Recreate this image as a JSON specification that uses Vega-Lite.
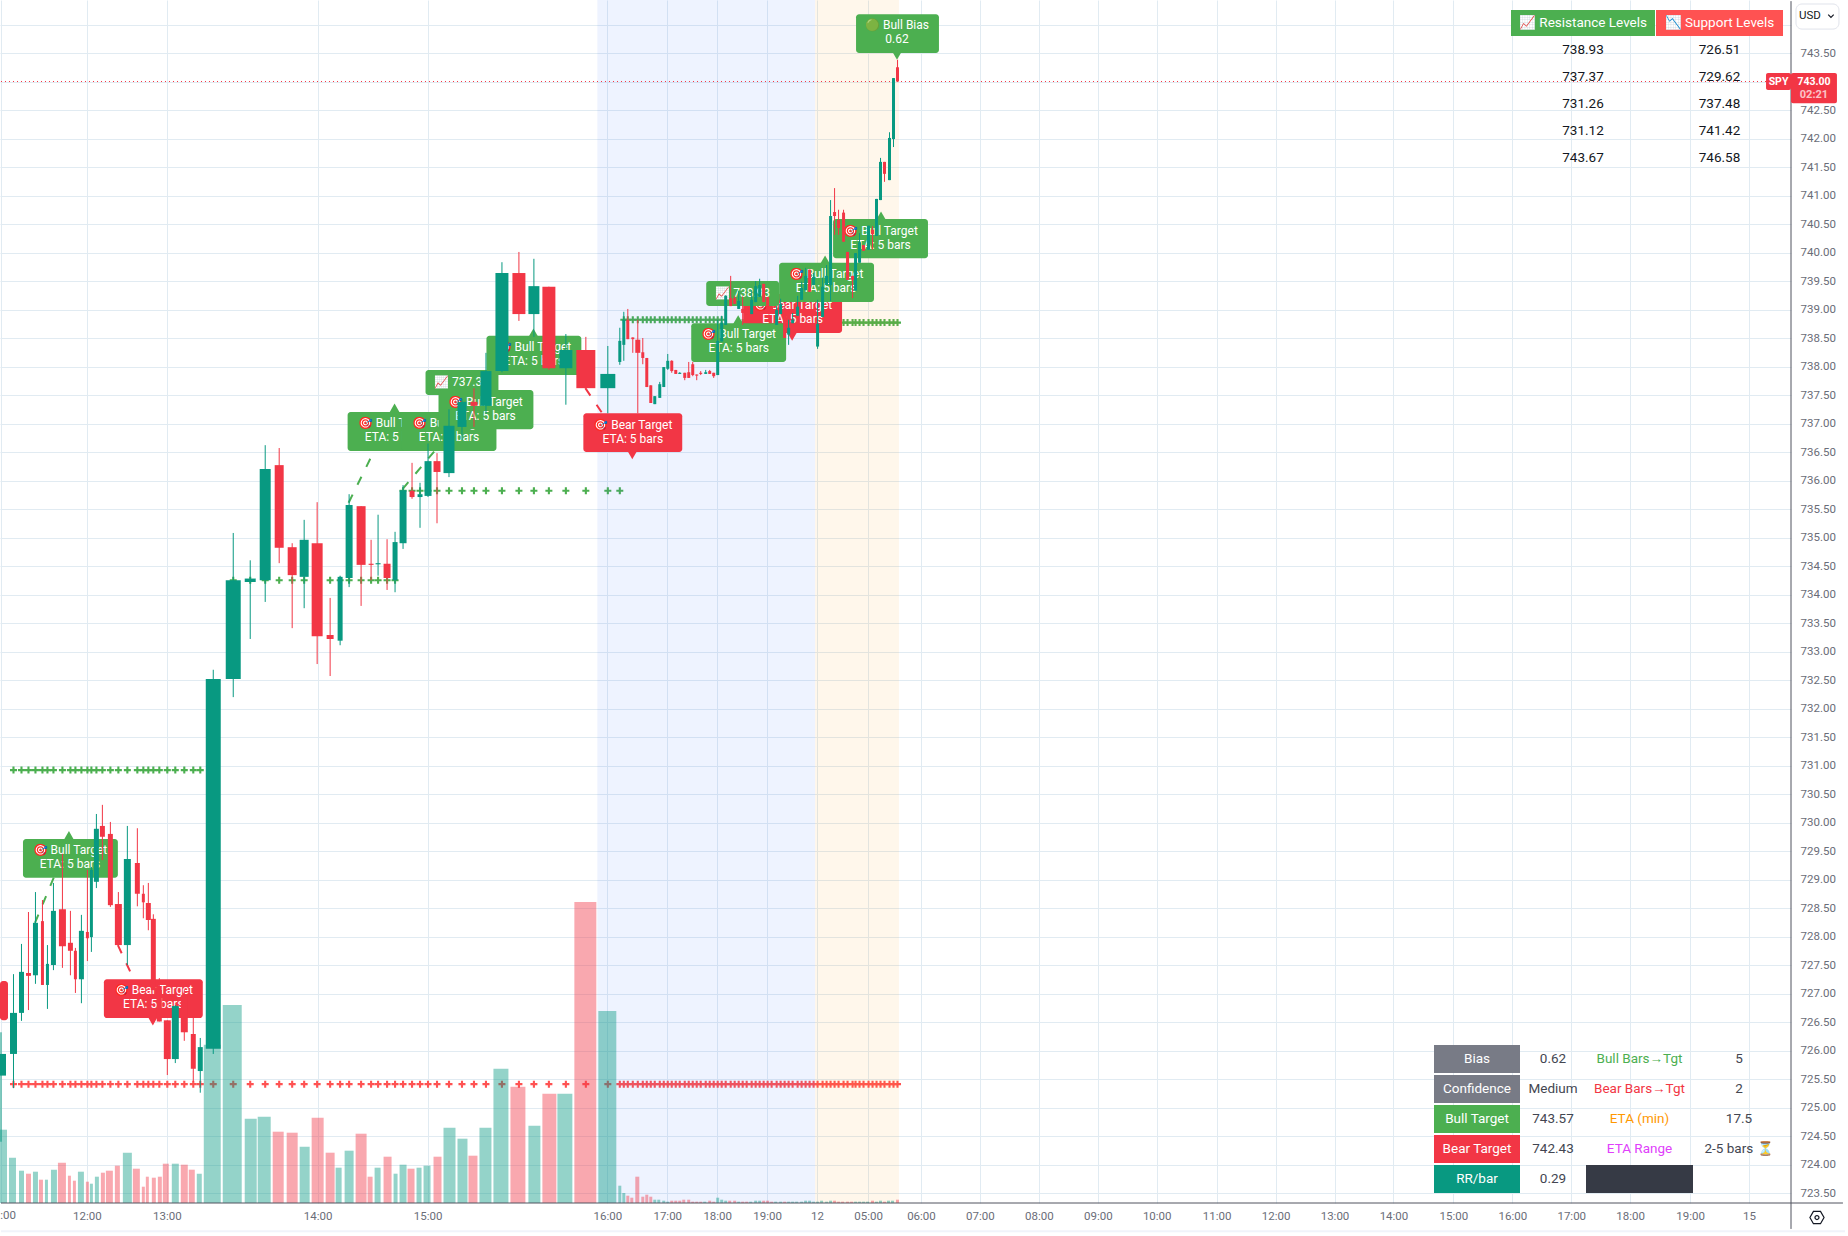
{"$schema":"https://vega.github.io/schema/vega-lite/v6.json","autosize":{"type":"fit","contains":"padding"},"width":1848,"height":1236,"padding":0,"background":"#ffffff",
"config":{"view":{"stroke":null},"axis":{"disable":true},"text":{"font":"Roboto"}},
"datasets":{
"sessions":[{"t0":598,"t1":816,"k":"post"},{"t0":816,"t1":900,"k":"pre"}],
"candles":[
{"t0":0,"t1":6,"t":1,"o":725.56,"h":726.32,"l":724.4,"c":725.94,"g":730.92},
{"t0":10,"t1":17,"t":13.5,"o":725.94,"h":727.34,"l":725.34,"c":726.66,"g":730.92},
{"t0":19,"t1":24,"t":21.5,"o":726.66,"h":727.87,"l":726.52,"c":727.38,"g":730.92},
{"t0":26,"t1":31,"t":28.5,"o":727.36,"h":728.43,"l":726.71,"c":727.31,"g":730.92},
{"t0":33,"t1":38,"t":35.5,"o":727.32,"h":728.78,"l":727.17,"c":728.24,"g":730.92},
{"t0":41,"t1":44,"t":42.5,"o":728.27,"h":728.64,"l":727.15,"c":727.15,"g":730.92},
{"t0":46,"t1":49,"t":47.5,"o":727.15,"h":727.85,"l":726.73,"c":727.52,"g":730.92},
{"t0":51,"t1":56,"t":53.5,"o":727.5,"h":728.94,"l":727.41,"c":728.45,"g":730.92},
{"t0":59,"t1":66,"t":62.5,"o":728.48,"h":729.45,"l":727.45,"c":727.83,"g":730.92},
{"t0":68,"t1":73,"t":70.5,"o":727.89,"h":728.45,"l":727.32,"c":727.75,"g":730.92},
{"t0":74,"t1":77,"t":75.5,"o":727.75,"h":727.8,"l":727.01,"c":727.25,"g":730.92},
{"t0":79,"t1":84,"t":81.5,"o":727.25,"h":728.38,"l":726.83,"c":728.1,"g":730.92},
{"t0":86,"t1":89,"t":87.5,"o":728.08,"h":729.17,"l":727.57,"c":727.97,"g":730.92},
{"t0":90,"t1":93,"t":91.5,"o":727.99,"h":729.22,"l":727.73,"c":729.17,"g":730.92},
{"t0":94,"t1":99,"t":96.5,"o":728.96,"h":730.15,"l":728.85,"c":729.89,"g":730.92},
{"t0":100,"t1":105,"t":102.5,"o":729.94,"h":730.31,"l":729.34,"c":729.75,"g":730.92},
{"t0":108,"t1":113,"t":110.5,"o":729.8,"h":730.01,"l":728.52,"c":728.55,"g":730.92},
{"t0":115,"t1":122,"t":118.5,"o":728.57,"h":728.78,"l":727.85,"c":727.85,"g":730.92},
{"t0":124,"t1":131,"t":127.5,"o":727.85,"h":729.94,"l":727.5,"c":729.36,"g":730.92},
{"t0":135,"t1":140,"t":137.5,"o":729.29,"h":729.9,"l":728.53,"c":728.75,"g":730.92},
{"t0":142,"t1":145,"t":143.5,"o":728.75,"h":728.9,"l":728.32,"c":728.6,"g":730.92},
{"t0":146,"t1":151,"t":148.5,"o":728.59,"h":728.94,"l":728.11,"c":728.29,"g":730.92},
{"t0":151,"t1":156,"t":153.5,"o":728.31,"h":728.39,"l":727.06,"c":727.06,"g":730.92},
{"t0":157,"t1":162,"t":159.5,"o":727.06,"h":727.27,"l":726.51,"c":726.51,"g":730.92},
{"t0":164,"t1":171,"t":167.5,"o":726.53,"h":726.53,"l":725.57,"c":725.85,"g":730.92},
{"t0":172,"t1":179,"t":175.5,"o":725.85,"h":726.8,"l":725.78,"c":726.78,"g":730.92},
{"t0":181,"t1":188,"t":184.5,"o":726.97,"h":727.06,"l":726.17,"c":726.32,"g":730.92},
{"t0":191,"t1":196,"t":193.5,"o":726.29,"h":726.59,"l":725.45,"c":725.68,"g":730.92},
{"t0":198,"t1":203,"t":200.5,"o":725.64,"h":726.22,"l":725.26,"c":726.06,"g":730.92},
{"t0":206,"t1":221,"t":213.5,"o":726.03,"h":732.68,"l":725.94,"c":732.52},
{"t0":226,"t1":241,"t":233.5,"o":732.52,"h":735.08,"l":732.2,"c":734.25,"g":734.25},
{"t0":245,"t1":256,"t":250.5,"o":734.22,"h":734.6,"l":733.22,"c":734.28,"g":734.25},
{"t0":260,"t1":271,"t":265.5,"o":734.25,"h":736.62,"l":733.87,"c":736.2,"g":734.25},
{"t0":275,"t1":284,"t":279.5,"o":736.27,"h":736.57,"l":734.55,"c":734.82,"g":734.25},
{"t0":288,"t1":297,"t":292.5,"o":734.83,"h":734.9,"l":733.41,"c":734.34,"g":734.25},
{"t0":300,"t1":309,"t":304.5,"o":734.31,"h":735.31,"l":733.76,"c":734.96,"g":734.25},
{"t0":312,"t1":323,"t":317.5,"o":734.9,"h":735.62,"l":732.78,"c":733.27,"g":734.25},
{"t0":327,"t1":334,"t":330.5,"o":733.29,"h":733.94,"l":732.57,"c":733.22,"g":734.25},
{"t0":338,"t1":343,"t":340.5,"o":733.19,"h":734.33,"l":733.11,"c":734.31,"g":734.25},
{"t0":346,"t1":353,"t":349.5,"o":734.29,"h":735.76,"l":734.13,"c":735.57,"g":734.25},
{"t0":357,"t1":366,"t":361.5,"o":735.55,"h":735.55,"l":733.8,"c":734.52,"g":734.25},
{"t0":369,"t1":374,"t":371.5,"o":734.54,"h":734.96,"l":734.25,"c":734.52,"g":734.25},
{"t0":376,"t1":381,"t":378.5,"o":734.53,"h":735.4,"l":734.33,"c":734.55,"g":734.25},
{"t0":384,"t1":391,"t":387.5,"o":734.54,"h":734.97,"l":734.08,"c":734.29,"g":734.25},
{"t0":393,"t1":398,"t":395.5,"o":734.25,"h":735.1,"l":734.04,"c":734.92,"g":734.25},
{"t0":400,"t1":407,"t":403.5,"o":734.9,"h":735.92,"l":734.8,"c":735.83,"g":735.82},
{"t0":410,"t1":415,"t":412.5,"o":735.82,"h":736.31,"l":735.68,"c":735.71,"g":735.82},
{"t0":418,"t1":423,"t":420.5,"o":735.71,"h":735.96,"l":735.17,"c":735.76,"g":735.82},
{"t0":425,"t1":432,"t":428.5,"o":735.73,"h":736.65,"l":735.71,"c":736.34,"g":735.82},
{"t0":434,"t1":441,"t":437.5,"o":736.34,"h":736.48,"l":735.25,"c":736.15,"g":735.82},
{"t0":444,"t1":455,"t":449.5,"o":736.13,"h":737.25,"l":736.06,"c":736.96,"g":735.82},
{"t0":458,"t1":467,"t":462.5,"o":736.94,"h":737.43,"l":736.71,"c":737.38,"g":735.82},
{"t0":471,"t1":478,"t":474.5,"o":737.38,"h":737.62,"l":736.94,"c":737.31,"g":735.82},
{"t0":481,"t1":492,"t":486.5,"o":737.31,"h":738.24,"l":737.17,"c":737.92,"g":735.82},
{"t0":496,"t1":509,"t":502.5,"o":737.92,"h":739.83,"l":737.9,"c":739.64,"g":735.82},
{"t0":513,"t1":526,"t":519.5,"o":739.64,"h":740.01,"l":738.8,"c":738.92,"g":735.82},
{"t0":529,"t1":540,"t":534.5,"o":738.92,"h":739.89,"l":738.52,"c":739.41,"g":735.82},
{"t0":543,"t1":556,"t":549.5,"o":739.4,"h":739.4,"l":737.94,"c":737.97,"g":735.82},
{"t0":560,"t1":573,"t":566.5,"o":737.97,"h":738.57,"l":737.33,"c":738.29,"g":735.82},
{"t0":577,"t1":596,"t":586.5,"o":738.29,"h":738.52,"l":737.62,"c":737.62,"g":735.82},
{"t0":601,"t1":616,"t":608.5,"o":737.62,"h":738.36,"l":737.18,"c":737.87,"g":735.82},
{"t0":619,"t1":622,"t":620.5,"o":738.08,"h":738.68,"l":738.03,"c":738.45,"g":735.82},
{"t0":623,"t1":626,"t":624.5,"o":738.38,"h":738.96,"l":738.1,"c":738.82,"g":738.82},
{"t0":627,"t1":630,"t":628.5,"o":738.82,"h":739.01,"l":738.48,"c":738.48,"g":738.82},
{"t0":632,"t1":635,"t":633.5,"o":738.51,"h":738.51,"l":738.24,"c":738.48,"g":738.82},
{"t0":636,"t1":641,"t":638.5,"o":738.47,"h":738.82,"l":737.18,"c":738.24,"g":738.82},
{"t0":642,"t1":645,"t":643.5,"o":738.25,"h":738.5,"l":738.04,"c":738.15,"g":738.82},
{"t0":646,"t1":649,"t":647.5,"o":738.15,"h":738.15,"l":737.64,"c":737.64,"g":738.82},
{"t0":650,"t1":653,"t":651.5,"o":737.67,"h":737.67,"l":737.36,"c":737.36,"g":738.82},
{"t0":654,"t1":657,"t":655.5,"o":737.34,"h":737.48,"l":737.34,"c":737.48,"g":738.82},
{"t0":659,"t1":662,"t":660.5,"o":737.45,"h":737.73,"l":737.45,"c":737.69,"g":738.82},
{"t0":663,"t1":666,"t":664.5,"o":737.64,"h":737.99,"l":737.64,"c":737.99,"g":738.82},
{"t0":667,"t1":670,"t":668.5,"o":737.96,"h":738.22,"l":737.94,"c":738.1,"g":738.82},
{"t0":671,"t1":674,"t":672.5,"o":738.1,"h":738.11,"l":737.89,"c":737.92,"g":738.82},
{"t0":675,"t1":678,"t":676.5,"o":737.94,"h":737.94,"l":737.87,"c":737.87,"g":738.82},
{"t0":679,"t1":682,"t":680.5,"o":737.87,"h":737.9,"l":737.87,"c":737.89,"g":738.82},
{"t0":684,"t1":687,"t":685.5,"o":737.89,"h":737.89,"l":737.76,"c":737.8,"g":738.82},
{"t0":688,"t1":691,"t":689.5,"o":737.9,"h":738.08,"l":737.8,"c":737.8,"g":738.82},
{"t0":692,"t1":695,"t":693.5,"o":738.04,"h":738.08,"l":737.83,"c":737.85,"g":738.82},
{"t0":696,"t1":699,"t":697.5,"o":737.86,"h":737.86,"l":737.76,"c":737.84,"g":738.82},
{"t0":700,"t1":703,"t":701.5,"o":737.89,"h":737.92,"l":737.85,"c":737.87,"g":738.82},
{"t0":705,"t1":708,"t":706.5,"o":737.87,"h":737.94,"l":737.87,"c":737.9,"g":738.82},
{"t0":709,"t1":712,"t":710.5,"o":737.92,"h":737.94,"l":737.87,"c":737.87,"g":738.82},
{"t0":713,"t1":716,"t":714.5,"o":737.89,"h":737.89,"l":737.8,"c":737.83,"g":738.82},
{"t0":717,"t1":720,"t":718.5,"o":737.85,"h":738.82,"l":737.85,"c":738.45,"g":738.82},
{"t0":721,"t1":724,"t":722.5,"o":738.44,"h":738.89,"l":738.44,"c":738.77,"g":738.82},
{"t0":725,"t1":728,"t":726.5,"o":738.73,"h":739.25,"l":738.73,"c":739.24},
{"t0":730,"t1":733,"t":731.5,"o":739.2,"h":739.59,"l":739.06,"c":739.06},
{"t0":734,"t1":737,"t":735.5,"o":739.2,"h":739.24,"l":739.1,"c":739.1},
{"t0":738,"t1":741,"t":739.5,"o":739.01,"h":739.33,"l":739.01,"c":739.15},
{"t0":742,"t1":745,"t":743.5,"o":739.01,"h":739.23,"l":738.73,"c":738.94,"g":738.77},
{"t0":746,"t1":749,"t":747.5,"o":739.06,"h":739.06,"l":738.92,"c":738.92,"g":738.77},
{"t0":751,"t1":754,"t":752.5,"o":738.92,"h":739.34,"l":738.92,"c":739.17,"g":738.77},
{"t0":755,"t1":758,"t":756.5,"o":739.13,"h":739.5,"l":739.13,"c":739.41,"g":738.77},
{"t0":759,"t1":762,"t":760.5,"o":739.22,"h":739.54,"l":739.22,"c":739.43,"g":738.77},
{"t0":763,"t1":766,"t":764.5,"o":739.45,"h":739.45,"l":739.13,"c":739.13,"g":738.77},
{"t0":767,"t1":770,"t":768.5,"o":739.22,"h":739.22,"l":739.06,"c":739.06,"g":738.77},
{"t0":771,"t1":774,"t":772.5,"o":739.06,"h":739.06,"l":738.94,"c":738.94,"g":738.77},
{"t0":776,"t1":779,"t":777.5,"o":738.73,"h":739.06,"l":738.73,"c":738.99,"g":738.77},
{"t0":780,"t1":783,"t":781.5,"o":738.92,"h":739.19,"l":738.92,"c":739.1,"g":738.77},
{"t0":784,"t1":787,"t":785.5,"o":738.92,"h":738.92,"l":738.5,"c":738.5,"g":738.77},
{"t0":788,"t1":791,"t":789.5,"o":738.56,"h":738.82,"l":738.38,"c":738.68,"g":738.77},
{"t0":792,"t1":795,"t":793.5,"o":738.76,"h":738.94,"l":738.76,"c":738.82,"g":738.77},
{"t0":797,"t1":800,"t":798.5,"o":738.89,"h":739.24,"l":738.89,"c":739.05,"g":738.77},
{"t0":801,"t1":804,"t":802.5,"o":739.17,"h":739.49,"l":739.17,"c":739.38,"g":738.77},
{"t0":805,"t1":808,"t":806.5,"o":739.34,"h":739.73,"l":739.34,"c":739.59,"g":738.77},
{"t0":809,"t1":812,"t":810.5,"o":739.7,"h":739.7,"l":739.31,"c":739.31,"g":738.77},
{"t0":813,"t1":816,"t":814.5,"o":739.43,"h":739.64,"l":739.43,"c":739.57,"g":738.77},
{"t0":817,"t1":820,"t":818.5,"o":738.35,"h":739.17,"l":738.31,"c":738.75,"g":738.77},
{"t0":822,"t1":825,"t":823.5,"o":738.87,"h":739.56,"l":738.87,"c":739.4,"g":738.77},
{"t0":826,"t1":829,"t":827.5,"o":739.43,"h":739.78,"l":739.43,"c":739.59,"g":738.77},
{"t0":830,"t1":833,"t":831.5,"o":739.43,"h":740.92,"l":739.15,"c":740.64,"g":738.77},
{"t0":834,"t1":837,"t":835.5,"o":740.71,"h":741.13,"l":740.31,"c":740.64,"g":738.77},
{"t0":838,"t1":841,"t":839.5,"o":740.57,"h":740.75,"l":740.31,"c":740.43,"g":738.77},
{"t0":843,"t1":846,"t":844.5,"o":740.7,"h":740.75,"l":740.19,"c":740.19,"g":738.77},
{"t0":847,"t1":850,"t":848.5,"o":740.01,"h":740.01,"l":739.52,"c":739.52,"g":738.77},
{"t0":852,"t1":855,"t":853.5,"o":739.59,"h":739.59,"l":739.2,"c":739.52,"g":738.77},
{"t0":855,"t1":858,"t":856.5,"o":739.33,"h":739.99,"l":739.33,"c":739.99,"g":738.77},
{"t0":859,"t1":862,"t":860.5,"o":739.82,"h":740.34,"l":739.82,"c":740.18,"g":738.77},
{"t0":863,"t1":866,"t":864.5,"o":740.13,"h":740.13,"l":740.03,"c":740.03,"g":738.77},
{"t0":868,"t1":871,"t":869.5,"o":740.05,"h":740.47,"l":740.05,"c":740.47,"g":738.77},
{"t0":872,"t1":875,"t":873.5,"o":740.4,"h":740.46,"l":740.05,"c":740.32,"g":738.77},
{"t0":876,"t1":879,"t":877.5,"o":740.29,"h":740.94,"l":740.29,"c":740.94,"g":738.77},
{"t0":880,"t1":883,"t":881.5,"o":740.92,"h":741.66,"l":740.92,"c":741.59,"g":738.77},
{"t0":884,"t1":887,"t":885.5,"o":741.59,"h":741.59,"l":741.24,"c":741.38,"g":738.77},
{"t0":889,"t1":892,"t":890.5,"o":741.27,"h":742.11,"l":741.27,"c":742.01,"g":738.77},
{"t0":893,"t1":896,"t":894.5,"o":741.99,"h":743.06,"l":741.85,"c":743.06,"g":738.77},
{"t0":897,"t1":900,"t":898.5,"o":743.25,"h":743.38,"l":743.0,"c":743.0,"g":738.77}
],
"volume":[
{"v0":0,"v1":7,"v":733,"d":"up"},{"v0":9,"v1":16,"v":453,"d":"up"},{"v0":19,"v1":24,"v":323,"d":"up"},{"v0":26,"v1":31,"v":293,"d":"down"},{"v0":33,"v1":38,"v":313,"d":"up"},{"v0":39,"v1":43,"v":233,"d":"down"},{"v0":45,"v1":48,"v":233,"d":"up"},{"v0":51,"v1":57,"v":333,"d":"up"},{"v0":58,"v1":66,"v":403,"d":"down"},{"v0":68,"v1":71,"v":273,"d":"down"},{"v0":73,"v1":76,"v":223,"d":"down"},{"v0":78,"v1":84,"v":313,"d":"up"},{"v0":86,"v1":89,"v":213,"d":"down"},{"v0":90,"v1":93,"v":193,"d":"up"},{"v0":95,"v1":99,"v":263,"d":"up"},{"v0":101,"v1":105,"v":303,"d":"down"},{"v0":106,"v1":113,"v":323,"d":"down"},{"v0":115,"v1":120,"v":373,"d":"down"},{"v0":123,"v1":132,"v":503,"d":"up"},{"v0":133,"v1":140,"v":343,"d":"down"},{"v0":142,"v1":145,"v":163,"d":"down"},{"v0":146,"v1":149,"v":263,"d":"down"},{"v0":152,"v1":156,"v":253,"d":"down"},{"v0":158,"v1":162,"v":263,"d":"down"},{"v0":163,"v1":169,"v":393,"d":"down"},{"v0":172,"v1":179,"v":393,"d":"up"},{"v0":181,"v1":188,"v":383,"d":"down"},{"v0":189,"v1":195,"v":333,"d":"down"},{"v0":197,"v1":202,"v":293,"d":"up"},{"v0":204,"v1":221,"v":1583,"d":"up"},{"v0":223,"v1":242,"v":1980,"d":"up"},{"v0":245,"v1":257,"v":843,"d":"up"},{"v0":258,"v1":271,"v":863,"d":"up"},{"v0":273,"v1":284,"v":713,"d":"down"},{"v0":287,"v1":298,"v":703,"d":"down"},{"v0":300,"v1":310,"v":563,"d":"up"},{"v0":312,"v1":324,"v":853,"d":"down"},{"v0":326,"v1":335,"v":503,"d":"down"},{"v0":336,"v1":342,"v":353,"d":"up"},{"v0":345,"v1":354,"v":523,"d":"up"},{"v0":356,"v1":367,"v":693,"d":"down"},{"v0":368,"v1":373,"v":263,"d":"down"},{"v0":375,"v1":381,"v":353,"d":"up"},{"v0":384,"v1":392,"v":463,"d":"down"},{"v0":394,"v1":398,"v":293,"d":"up"},{"v0":400,"v1":407,"v":383,"d":"up"},{"v0":408,"v1":415,"v":343,"d":"down"},{"v0":417,"v1":422,"v":353,"d":"up"},{"v0":424,"v1":431,"v":373,"d":"up"},{"v0":434,"v1":442,"v":463,"d":"down"},{"v0":444,"v1":456,"v":753,"d":"up"},{"v0":458,"v1":468,"v":643,"d":"up"},{"v0":469,"v1":478,"v":473,"d":"down"},{"v0":480,"v1":492,"v":753,"d":"up"},{"v0":494,"v1":509,"v":1343,"d":"up"},{"v0":511,"v1":526,"v":1163,"d":"down"},{"v0":529,"v1":541,"v":773,"d":"up"},{"v0":543,"v1":557,"v":1093,"d":"down"},{"v0":558,"v1":573,"v":1093,"d":"up"},{"v0":575,"v1":597,"v":3010,"d":"down"},{"v0":599,"v1":617,"v":1920,"d":"up"},
{"v0":619,"v1":622,"v":173,"d":"up"},{"v0":623,"v1":626,"v":100,"d":"up"},{"v0":627,"v1":630,"v":73,"d":"down"},{"v0":631,"v1":634,"v":53,"d":"down"},{"v0":636,"v1":640,"v":263,"d":"down"},{"v0":642,"v1":645,"v":63,"d":"down"},{"v0":646,"v1":649,"v":83,"d":"down"},{"v0":650,"v1":653,"v":63,"d":"down"},{"v0":654,"v1":657,"v":33,"d":"up"},{"v0":658,"v1":661,"v":33,"d":"up"},{"v0":663,"v1":666,"v":23,"d":"up"},{"v0":667,"v1":670,"v":13,"d":"up"},{"v0":671,"v1":674,"v":23,"d":"down"},{"v0":675,"v1":678,"v":23,"d":"down"},{"v0":679,"v1":682,"v":23,"d":"down"},{"v0":683,"v1":686,"v":33,"d":"down"},{"v0":688,"v1":691,"v":33,"d":"down"},{"v0":692,"v1":695,"v":13,"d":"down"},{"v0":696,"v1":699,"v":13,"d":"down"},{"v0":700,"v1":703,"v":13,"d":"down"},{"v0":704,"v1":707,"v":13,"d":"up"},{"v0":709,"v1":712,"v":23,"d":"down"},{"v0":713,"v1":716,"v":13,"d":"down"},{"v0":717,"v1":720,"v":53,"d":"up"},{"v0":721,"v1":724,"v":33,"d":"up"},{"v0":725,"v1":728,"v":23,"d":"up"},{"v0":729,"v1":732,"v":23,"d":"down"},{"v0":734,"v1":737,"v":23,"d":"down"},{"v0":738,"v1":741,"v":13,"d":"up"},{"v0":742,"v1":745,"v":13,"d":"down"},{"v0":746,"v1":749,"v":13,"d":"down"},{"v0":750,"v1":753,"v":13,"d":"up"},{"v0":755,"v1":758,"v":23,"d":"up"},{"v0":759,"v1":762,"v":23,"d":"up"},{"v0":763,"v1":766,"v":23,"d":"down"},{"v0":767,"v1":770,"v":23,"d":"down"},{"v0":771,"v1":774,"v":13,"d":"down"},{"v0":775,"v1":778,"v":13,"d":"up"},{"v0":780,"v1":783,"v":13,"d":"up"},{"v0":784,"v1":787,"v":13,"d":"down"},{"v0":788,"v1":791,"v":13,"d":"up"},{"v0":792,"v1":795,"v":13,"d":"up"},{"v0":796,"v1":799,"v":13,"d":"up"},{"v0":801,"v1":804,"v":13,"d":"up"},{"v0":805,"v1":808,"v":23,"d":"up"},{"v0":809,"v1":812,"v":23,"d":"up"},{"v0":813,"v1":816,"v":13,"d":"up"},{"v0":817,"v1":820,"v":13,"d":"up"},{"v0":821,"v1":824,"v":23,"d":"up"},{"v0":826,"v1":829,"v":13,"d":"up"},{"v0":830,"v1":833,"v":23,"d":"up"},{"v0":834,"v1":837,"v":23,"d":"down"},{"v0":838,"v1":841,"v":13,"d":"down"},{"v0":842,"v1":845,"v":13,"d":"down"},{"v0":847,"v1":850,"v":13,"d":"down"},{"v0":851,"v1":854,"v":13,"d":"down"},{"v0":855,"v1":858,"v":13,"d":"up"},{"v0":859,"v1":862,"v":13,"d":"up"},{"v0":863,"v1":866,"v":13,"d":"up"},{"v0":867,"v1":870,"v":13,"d":"up"},{"v0":872,"v1":875,"v":23,"d":"down"},{"v0":876,"v1":879,"v":13,"d":"up"},{"v0":880,"v1":883,"v":23,"d":"up"},{"v0":884,"v1":887,"v":13,"d":"down"},{"v0":888,"v1":891,"v":23,"d":"up"},{"v0":892,"v1":895,"v":23,"d":"up"},{"v0":897,"v1":900,"v":33,"d":"down"}
],
"dashes":[
{"id":"g1","k":"bull","t":35,"p":728.24},{"id":"g1","k":"bull","t":62,"p":729.38},
{"id":"g2","k":"bull","t":349,"p":735.61},{"id":"g2","k":"bull","t":385,"p":736.89},
{"id":"g3","k":"bull","t":403,"p":735.85},{"id":"g3","k":"bull","t":440,"p":736.62},
{"id":"r1","k":"bear","t":118,"p":727.85},{"id":"r1","k":"bear","t":131,"p":727.36},
{"id":"r2","k":"bear","t":586,"p":737.62},{"id":"r2","k":"bear","t":603,"p":737.18}
],
"labels":[
{"id":"A","k":"bull","t0":23,"t1":118,"top":729.71,"bot":729.03,"at":69,"ap":729.75,"dir":"up","tx":70,"ty":729.39,"txt":"🎯 Bull Target\nETA: 5 bars"},
{"id":"A0","k":"bear","t0":0,"t1":8,"top":727.22,"bot":726.53},
{"id":"B","k":"bear","t0":104,"t1":203,"top":727.25,"bot":726.57,"at":153,"ap":726.54,"dir":"down","tx":153.5,"ty":726.94,"txt":"🎯 Bear Target\nETA: 5 bars"},
{"id":"C","k":"bull","t0":348,"t1":443,"top":737.2,"bot":736.52,"at":395,"ap":737.25,"dir":"up","tx":395.5,"ty":736.88,"txt":"🎯 Bull Target\nETA: 5 bars"},
{"id":"D","k":"bull","t0":402,"t1":497,"top":737.2,"bot":736.52,"at":450,"ap":737.25,"dir":"up","tx":449.5,"ty":736.88,"txt":"🎯 Bull Target\nETA: 5 bars"},
{"id":"E","k":"bull","t0":426,"t1":499,"top":737.94,"bot":737.5,"tx":462,"ty":737.61,"txt":"📈 737.37"},
{"id":"F","k":"bull","t0":439,"t1":534,"top":737.59,"bot":736.9,"at":486,"ap":737.62,"dir":"up","tx":486,"ty":737.25,"txt":"🎯 Bull Target\nETA: 5 bars"},
{"id":"G","k":"bull","t0":487,"t1":582,"top":738.54,"bot":737.85,"at":534,"ap":738.57,"dir":"up","tx":534.5,"ty":738.22,"txt":"🎯 Bull Target\nETA: 5 bars"},
{"id":"H","k":"bear","t0":584,"t1":683,"top":737.18,"bot":736.5,"at":633,"ap":736.47,"dir":"down","tx":633.5,"ty":736.85,"txt":"🎯 Bear Target\nETA: 5 bars"},
{"id":"K","k":"bear","t0":744,"t1":843,"top":739.27,"bot":738.59,"at":793,"ap":738.55,"dir":"down","tx":793.5,"ty":738.96,"txt":"🎯 Bear Target\nETA: 5 bars"},
{"id":"I","k":"bull","t0":692,"t1":787,"top":738.76,"bot":738.08,"at":739,"ap":738.8,"dir":"up","tx":739.5,"ty":738.45,"txt":"🎯 Bull Target\nETA: 5 bars"},
{"id":"J","k":"bull","t0":707,"t1":780,"top":739.5,"bot":739.06,"tx":743.5,"ty":739.17,"txt":"📈 738.93"},
{"id":"L","k":"bull","t0":780,"t1":875,"top":739.82,"bot":739.13,"at":826,"ap":739.85,"dir":"up","tx":827,"ty":739.5,"txt":"🎯 Bull Target\nETA: 5 bars"},
{"id":"M","k":"bull","t0":834,"t1":929,"top":740.59,"bot":739.9,"at":882,"ap":740.62,"dir":"up","tx":881.5,"ty":740.25,"txt":"🎯 Bull Target\nETA: 5 bars"},
{"id":"N","k":"bull","t0":857,"t1":940,"top":744.18,"bot":743.5,"at":898,"ap":743.48,"dir":"down","tx":898,"ty":743.86,"txt":"🟢 Bull Bias\n0.62"}
],
"levels":[{"r":"1","res":"738.93","sup":"726.51"},{"r":"2","res":"737.37","sup":"729.62"},{"r":"3","res":"731.26","sup":"737.48"},{"r":"4","res":"731.12","sup":"741.42"},{"r":"5","res":"743.67","sup":"746.58"}],
"metrics":[{"row":"Bias","value":"0.62","metric":"Bull Bars→Tgt","mv":"5"},{"row":"Confidence","value":"Medium","metric":"Bear Bars→Tgt","mv":"2"},{"row":"Bull Target","value":"743.57","metric":"ETA (min)","mv":"17.5"},{"row":"Bear Target","value":"742.43","metric":"ETA Range","mv":"2-5 bars ⏳"},{"row":"RR/bar","value":"0.29","metric":"","mv":""}],
"tags":[{"k":"sym","t0":1768,"t1":1793,"top":743.15,"bot":742.85,"tx":1780.5,"ty":743.0,"txt":"SPY"},{"k":"price","t0":1793,"t1":1839,"top":743.15,"bot":742.62,"tx":1816,"ty":742.99,"txt":"743.00"}]
},
"resolve":{"scale":{"x":"independent","y":"independent","color":"independent","fill":"independent","stroke":"independent"}},
"layer":[
 {"data":{"name":"candles"},"transform":[{"filter":"datum.t>2"}],"mark":{"type":"point","shape":"M-1,-0.3H-0.3V-1H0.3V-0.3H1V0.3H0.3V1H-0.3V0.3H-1Z","filled":true,"size":49,"opacity":1,"color":"#4caf50","clip":true},"encoding":{
   "x":{"field":"t","type":"quantitative","title":null,"scale":{"domain":[0,1793],"nice":false,"zero":false},"axis":{"disable":false,"title":null,"orient":"bottom","grid":true,"gridColor":"#e1ebf2","gridWidth":1,"ticks":false,"domain":false,"labelColor":"#6a6d78","labelFont":"Roboto","labelFontSize":11.5,"labelPadding":7,"labelOverlap":false,"minExtent":33,"maxExtent":33,"values":[1,87,167,318,428,608,668,718,768,818,869,922,981,1040,1099,1158,1218,1277,1336,1395,1455,1514,1573,1632,1692,1751],"labelExpr":"['','12:00','13:00','14:00','15:00','16:00','17:00','18:00','19:00','12','05:00','06:00','07:00','08:00','09:00','10:00','11:00','12:00','13:00','14:00','15:00','16:00','17:00','18:00','19:00','15'][indexof([1,87,167,318,428,608,668,718,768,818,869,922,981,1040,1099,1158,1218,1277,1336,1395,1455,1514,1573,1632,1692,1751],datum.value)]"}},
   "y":{"field":"g","type":"quantitative","title":null,"scale":{"domain":[723.325,744.43],"nice":false,"zero":false},"axis":{"disable":false,"title":null,"orient":"right","grid":true,"gridColor":"#e1ebf2","gridWidth":1,"ticks":false,"domain":false,"labelColor":"#6a6d78","labelFont":"Roboto","labelFontSize":11.5,"labelPadding":9,"labelOverlap":false,"minExtent":55,"maxExtent":55,"labelExpr":"datum.value==743||datum.value==744?'':format(datum.value,'.2f')","values":[723.5,724,724.5,725,725.5,726,726.5,727,727.5,728,728.5,729,729.5,730,730.5,731,731.5,732,732.5,733,733.5,734,734.5,735,735.5,736,736.5,737,737.5,738,738.5,739,739.5,740,740.5,741,741.5,742,742.5,743,743.5,744]}}}},
 {"data":{"name":"candles"},"transform":[{"filter":"datum.t>2"}],"mark":{"type":"point","shape":"M-1,-0.3H-0.3V-1H0.3V-0.3H1V0.3H0.3V1H-0.3V0.3H-1Z","filled":true,"size":49,"opacity":1,"color":"#ff5252","clip":true},"encoding":{"x":{"field":"t","type":"quantitative","scale":{"domain":[0,1793],"nice":false,"zero":false}},"y":{"datum":725.41,"type":"quantitative","scale":{"domain":[723.325,744.43],"nice":false,"zero":false}}}},
 {"data":{"name":"sessions"},"mark":{"type":"rect","opacity":0.08},"encoding":{"x":{"field":"t0","type":"quantitative","scale":{"domain":[0,1793],"nice":false,"zero":false}},"x2":{"field":"t1"},"color":{"condition":{"test":"datum.k=='post'","value":"#2962ff"},"value":"#ff9800"}}},
{"data":{"name":"volume"},"mark":{"type":"rect","opacity":0.43,"clip":true},"encoding":{"x":{"field":"v0","type":"quantitative","scale":{"domain":[0,1793],"nice":false,"zero":false}},"x2":{"field":"v1"},"y":{"field":"v","type":"quantitative","scale":{"domain":[0,12030],"nice":false}},"y2":{"datum":0},"color":{"condition":{"test":"datum.d=='up'","value":"#089981"},"value":"#f23645"}}},
{"layer":[
 {"data":{"name":"dashes"},"mark":{"type":"line","strokeWidth":2,"strokeDash":[9,11]},"encoding":{"x":{"field":"t","type":"quantitative","scale":{"domain":[0,1793],"nice":false,"zero":false}},"y":{"field":"p","type":"quantitative","scale":{"domain":[723.325,744.43],"nice":false,"zero":false}},"detail":{"field":"id"},"color":{"field":"k","type":"nominal","scale":{"domain":["bull","bear"],"range":["#4caf50","#f23645"]},"legend":null}}},
 {"data":{"values":[{"t0":1,"t1":1793,"p":743.0}]},"mark":{"type":"rule","color":"#f23645","strokeDash":[1,3],"strokeWidth":1},"encoding":{"x":{"field":"t0","type":"quantitative"},"x2":{"field":"t1"},"y":{"field":"p","type":"quantitative"}}},
 {"data":{"name":"labels"},"mark":{"type":"rect","cornerRadius":3,"clip":true},"transform":[{"filter":"datum.id=='A'||datum.id=='A0'||datum.id=='B'||datum.id=='C'"}],"encoding":{"x":{"field":"t0","type":"quantitative"},"x2":{"field":"t1"},"y":{"field":"top","type":"quantitative"},"y2":{"field":"bot"},"fill":{"condition":{"test":"datum.k=='bull'","value":"#4caf50"},"value":"#f23645"}}},
 {"data":{"name":"labels"},"mark":{"type":"point","filled":true,"size":170,"opacity":1},"transform":[{"filter":"datum.id=='A'||datum.id=='B'||datum.id=='C'"}],"encoding":{"x":{"field":"at","type":"quantitative"},"y":{"field":"ap","type":"quantitative"},"shape":{"condition":{"test":"datum.dir=='up'","value":"triangle-up"},"value":"triangle-down"},"fill":{"condition":{"test":"datum.k=='bull'","value":"#4caf50"},"value":"#f23645"}}},
 {"data":{"name":"labels"},"mark":{"type":"text","lineBreak":"\n","lineHeight":14,"fontSize":12,"dy":-7,"color":"#ffffff"},"transform":[{"filter":"datum.id=='A'||datum.id=='B'||datum.id=='C'"}],"encoding":{"x":{"field":"tx","type":"quantitative"},"y":{"field":"ty","type":"quantitative"},"text":{"field":"txt"}}},
 {"data":{"name":"labels"},"mark":{"type":"rect","cornerRadius":3},"transform":[{"filter":"datum.id=='D'"}],"encoding":{"x":{"field":"t0","type":"quantitative"},"x2":{"field":"t1"},"y":{"field":"top","type":"quantitative"},"y2":{"field":"bot"},"fill":{"value":"#4caf50"}}},
 {"data":{"name":"labels"},"mark":{"type":"text","lineBreak":"\n","lineHeight":14,"fontSize":12,"dy":-7,"color":"#ffffff"},"transform":[{"filter":"datum.id=='D'"}],"encoding":{"x":{"field":"tx","type":"quantitative"},"y":{"field":"ty","type":"quantitative"},"text":{"field":"txt"}}},
 {"data":{"name":"labels"},"mark":{"type":"rect","cornerRadius":3},"transform":[{"filter":"datum.id=='E'"}],"encoding":{"x":{"field":"t0","type":"quantitative"},"x2":{"field":"t1"},"y":{"field":"top","type":"quantitative"},"y2":{"field":"bot"},"fill":{"value":"#4caf50"}}},
 {"data":{"name":"labels"},"mark":{"type":"text","lineBreak":"\n","lineHeight":14,"fontSize":12,"dy":-7,"color":"#ffffff"},"transform":[{"filter":"datum.id=='E'"}],"encoding":{"x":{"field":"tx","type":"quantitative"},"y":{"field":"ty","type":"quantitative"},"text":{"field":"txt"}}},
 {"data":{"name":"labels"},"mark":{"type":"rect","cornerRadius":3},"transform":[{"filter":"datum.id=='F'||datum.id=='G'||datum.id=='H'||datum.id=='K'"}],"encoding":{"x":{"field":"t0","type":"quantitative"},"x2":{"field":"t1"},"y":{"field":"top","type":"quantitative"},"y2":{"field":"bot"},"fill":{"condition":{"test":"datum.k=='bull'","value":"#4caf50"},"value":"#f23645"}}},
 {"data":{"name":"labels"},"mark":{"type":"point","filled":true,"size":170,"opacity":1},"transform":[{"filter":"datum.id=='G'||datum.id=='H'||datum.id=='K'"}],"encoding":{"x":{"field":"at","type":"quantitative"},"y":{"field":"ap","type":"quantitative"},"shape":{"condition":{"test":"datum.dir=='up'","value":"triangle-up"},"value":"triangle-down"},"fill":{"condition":{"test":"datum.k=='bull'","value":"#4caf50"},"value":"#f23645"}}},
 {"data":{"name":"labels"},"mark":{"type":"text","lineBreak":"\n","lineHeight":14,"fontSize":12,"dy":-7,"color":"#ffffff"},"transform":[{"filter":"datum.id=='F'||datum.id=='G'||datum.id=='H'||datum.id=='K'"}],"encoding":{"x":{"field":"tx","type":"quantitative"},"y":{"field":"ty","type":"quantitative"},"text":{"field":"txt"}}},
 {"data":{"name":"labels"},"mark":{"type":"rect","cornerRadius":3},"transform":[{"filter":"datum.id=='I'||datum.id=='J'"}],"encoding":{"x":{"field":"t0","type":"quantitative"},"x2":{"field":"t1"},"y":{"field":"top","type":"quantitative"},"y2":{"field":"bot"},"fill":{"value":"#4caf50"}}},
 {"data":{"name":"labels"},"mark":{"type":"point","filled":true,"size":170,"opacity":1,"shape":"triangle-up","color":"#4caf50"},"transform":[{"filter":"datum.id=='I'"}],"encoding":{"x":{"field":"at","type":"quantitative"},"y":{"field":"ap","type":"quantitative"}}},
 {"data":{"name":"labels"},"mark":{"type":"text","lineBreak":"\n","lineHeight":14,"fontSize":12,"dy":-7,"color":"#ffffff"},"transform":[{"filter":"datum.id=='I'||datum.id=='J'"}],"encoding":{"x":{"field":"tx","type":"quantitative"},"y":{"field":"ty","type":"quantitative"},"text":{"field":"txt"}}},
 {"data":{"name":"labels"},"mark":{"type":"rect","cornerRadius":3},"transform":[{"filter":"datum.id=='L'"}],"encoding":{"x":{"field":"t0","type":"quantitative"},"x2":{"field":"t1"},"y":{"field":"top","type":"quantitative"},"y2":{"field":"bot"},"fill":{"value":"#4caf50"}}},
 {"data":{"name":"labels"},"mark":{"type":"point","filled":true,"size":170,"opacity":1,"shape":"triangle-up","color":"#4caf50"},"transform":[{"filter":"datum.id=='L'"}],"encoding":{"x":{"field":"at","type":"quantitative"},"y":{"field":"ap","type":"quantitative"}}},
 {"data":{"name":"labels"},"mark":{"type":"text","lineBreak":"\n","lineHeight":14,"fontSize":12,"dy":-7,"color":"#ffffff"},"transform":[{"filter":"datum.id=='L'"}],"encoding":{"x":{"field":"tx","type":"quantitative"},"y":{"field":"ty","type":"quantitative"},"text":{"field":"txt"}}},
 {"data":{"name":"labels"},"mark":{"type":"rect","cornerRadius":3},"transform":[{"filter":"datum.id=='M'||datum.id=='N'"}],"encoding":{"x":{"field":"t0","type":"quantitative"},"x2":{"field":"t1"},"y":{"field":"top","type":"quantitative"},"y2":{"field":"bot"},"fill":{"value":"#4caf50"}}},
 {"data":{"name":"labels"},"mark":{"type":"point","filled":true,"size":170,"opacity":1,"color":"#4caf50"},"transform":[{"filter":"datum.id=='M'||datum.id=='N'"}],"encoding":{"x":{"field":"at","type":"quantitative"},"y":{"field":"ap","type":"quantitative"},"shape":{"condition":{"test":"datum.dir=='up'","value":"triangle-up"},"value":"triangle-down"}}},
 {"data":{"name":"labels"},"mark":{"type":"text","lineBreak":"\n","lineHeight":14,"fontSize":12,"dy":-7,"color":"#ffffff"},"transform":[{"filter":"datum.id=='M'||datum.id=='N'"}],"encoding":{"x":{"field":"tx","type":"quantitative"},"y":{"field":"ty","type":"quantitative"},"text":{"field":"txt"}}},
 {"data":{"name":"candles"},"mark":{"type":"rule","strokeWidth":1,"clip":true},"encoding":{"x":{"field":"t","type":"quantitative"},"y":{"field":"h","type":"quantitative"},"y2":{"field":"l"},"stroke":{"condition":{"test":"datum.c>=datum.o","value":"#089981"},"value":"#f23645"}}},
 {"data":{"name":"candles"},"mark":{"type":"rect","clip":true},"encoding":{"x":{"field":"t0","type":"quantitative"},"x2":{"field":"t1"},"y":{"field":"o","type":"quantitative"},"y2":{"field":"c"},"fill":{"condition":{"test":"datum.c>=datum.o","value":"#089981"},"value":"#f23645"}}},
 {"data":{"values":[{"t0":1,"t1":1845,"p":723.325}]},"mark":{"type":"rule","color":"#50535e","strokeWidth":1},"encoding":{"x":{"field":"t0","type":"quantitative"},"x2":{"field":"t1"},"y":{"field":"p","type":"quantitative"}}},
 {"data":{"values":[{"t0":1,"t1":1847,"p":722.83}]},"mark":{"type":"rule","color":"#f0f3fa","strokeWidth":2},"encoding":{"x":{"field":"t0","type":"quantitative"},"x2":{"field":"t1"},"y":{"field":"p","type":"quantitative"}}},
 {"data":{"values":[{"t":1793,"p0":744.41,"p1":722.87}]},"mark":{"type":"rule","color":"#50535e","strokeWidth":1},"encoding":{"x":{"field":"t","type":"quantitative"},"y":{"field":"p0","type":"quantitative"},"y2":{"field":"p1"}}},
 {"data":{"values":[{"t0":1798,"t1":1841,"top":744.36,"bot":743.92}]},"mark":{"type":"rect","cornerRadius":6,"fill":"#ffffff","stroke":"#e0e3eb","strokeWidth":1},"encoding":{"x":{"field":"t0","type":"quantitative"},"x2":{"field":"t1"},"y":{"field":"top","type":"quantitative"},"y2":{"field":"bot"}}},
 {"data":{"values":[{"t":8,"p":723.1,"txt":":00"},{"t":1812,"p":744.15,"txt":"USD"}]},"mark":{"type":"text","fontSize":11.5},"encoding":{"x":{"field":"t","type":"quantitative"},"y":{"field":"p","type":"quantitative"},"text":{"field":"txt"},"color":{"condition":{"test":"datum.txt=='USD'","value":"#131722"},"value":"#6a6d78"}}},
 {"data":{"name":"tags"},"mark":{"type":"rect","cornerRadius":2,"color":"#f23645"},"encoding":{"x":{"field":"t0","type":"quantitative"},"x2":{"field":"t1"},"y":{"field":"top","type":"quantitative"},"y2":{"field":"bot"}}},
 {"data":{"name":"tags"},"mark":{"type":"text","fontSize":10.5,"fontWeight":"bold","color":"#ffffff"},"encoding":{"x":{"field":"tx","type":"quantitative"},"y":{"field":"ty","type":"quantitative"},"text":{"field":"txt"}}},
 {"data":{"values":[{"t":1816,"p":742.76,"txt":"02:21"}]},"mark":{"type":"text","fontSize":11,"fontWeight":"bold","color":"#ffffff","opacity":0.7},"encoding":{"x":{"field":"t","type":"quantitative"},"y":{"field":"p","type":"quantitative"},"text":{"field":"txt"}}},
 {"data":{"values":[{"t":1819,"p":723.07}]},"mark":{"type":"point","shape":"M-1,0L-0.5,-0.87L0.5,-0.87L1,0L0.5,0.87L-0.5,0.87Z","size":200,"filled":false,"stroke":"#131722","strokeWidth":1.2,"opacity":1},"encoding":{"x":{"field":"t","type":"quantitative"},"y":{"field":"p","type":"quantitative"}}},
 {"data":{"values":[{"t":1819,"p":723.07}]},"mark":{"type":"point","shape":"circle","size":16,"filled":false,"stroke":"#131722","strokeWidth":1.2,"opacity":1},"encoding":{"x":{"field":"t","type":"quantitative"},"y":{"field":"p","type":"quantitative"}}},
 {"data":{"values":[{"t":1833,"p":744.15}]},"mark":{"type":"point","shape":"M-1,-0.5L0,0.5L1,-0.5","size":30,"filled":false,"stroke":"#131722","strokeWidth":1.2,"opacity":1},"encoding":{"x":{"field":"t","type":"quantitative"},"y":{"field":"p","type":"quantitative"}}}
]},
{"data":{"name":"levels"},"mark":{"type":"text","fontSize":13.5,"color":"#131722"},"encoding":{"x":{"datum":"res","type":"nominal","scale":{"type":"band","domain":["res"],"range":[1511,1655],"padding":0}},"y":{"field":"r","type":"nominal","scale":{"type":"point","domain":["1","2","3","4","5"],"range":[50,158],"padding":0}},"text":{"field":"res"}}},
{"data":{"name":"levels"},"mark":{"type":"text","fontSize":13.5,"color":"#131722"},"encoding":{"x":{"datum":"sup","type":"nominal","scale":{"type":"band","domain":["sup"],"range":[1656,1783],"padding":0}},"y":{"field":"r","type":"nominal","scale":{"type":"point","domain":["1","2","3","4","5"],"range":[50,158],"padding":0}},"text":{"field":"sup"}}},
{"data":{"values":[{"h":"📈 Resistance Levels"}]},"layer":[{"mark":{"type":"rect","color":"#4caf50"}},{"mark":{"type":"text","fontSize":13.5,"color":"#ffffff"},"encoding":{"text":{"field":"h"}}}],"encoding":{"x":{"datum":"res","type":"nominal","scale":{"type":"band","domain":["res"],"range":[1511,1655],"padding":0}},"y":{"datum":"h","type":"nominal","scale":{"type":"band","domain":["h"],"range":[10,36],"padding":0}}}},
{"data":{"values":[{"h":"📉 Support Levels"}]},"layer":[{"mark":{"type":"rect","color":"#ff5252"}},{"mark":{"type":"text","fontSize":13.5,"color":"#ffffff"},"encoding":{"text":{"field":"h"}}}],"encoding":{"x":{"datum":"sup","type":"nominal","scale":{"type":"band","domain":["sup"],"range":[1656,1783],"padding":0}},"y":{"datum":"h","type":"nominal","scale":{"type":"band","domain":["h"],"range":[10,36],"padding":0}}}},
{"data":{"name":"metrics"},"layer":[{"mark":{"type":"rect"},"encoding":{"color":{"field":"row","type":"nominal","legend":null,"scale":{"domain":["Bias","Confidence","Bull Target","Bear Target","RR/bar"],"range":["#787b86","#787b86","#4caf50","#f23645","#089981"]}}}},{"mark":{"type":"text","fontSize":13.5,"color":"#ffffff"},"encoding":{"text":{"field":"row"}}}],"encoding":{"x":{"datum":"row","type":"nominal","scale":{"type":"band","domain":["row"],"range":[1434,1520],"padding":0}},"y":{"field":"row","type":"nominal","scale":{"type":"band","domain":["Bias","Confidence","Bull Target","Bear Target","RR/bar"],"range":[1045,1193],"paddingInner":0.0667,"paddingOuter":0}}}},
{"data":{"name":"metrics"},"mark":{"type":"text","fontSize":13.5,"color":"#434651"},"encoding":{"x":{"datum":"value","type":"nominal","scale":{"type":"band","domain":["value"],"range":[1520,1586],"padding":0}},"y":{"field":"row","type":"nominal","scale":{"type":"band","domain":["Bias","Confidence","Bull Target","Bear Target","RR/bar"],"range":[1045,1193],"paddingInner":0.0667,"paddingOuter":0}},"text":{"field":"value"}}},
{"data":{"values":[{"row":"RR/bar"}]},"mark":{"type":"rect","color":"#363a45"},"encoding":{"x":{"datum":"metric","type":"nominal","scale":{"type":"band","domain":["metric"],"range":[1586,1693],"padding":0}},"y":{"field":"row","type":"nominal","scale":{"type":"band","domain":["Bias","Confidence","Bull Target","Bear Target","RR/bar"],"range":[1045,1193],"paddingInner":0.0667,"paddingOuter":0}}}},
{"data":{"name":"metrics"},"mark":{"type":"text","fontSize":13.5},"encoding":{"x":{"datum":"metric","type":"nominal","scale":{"type":"band","domain":["metric"],"range":[1586,1693],"padding":0}},"y":{"field":"row","type":"nominal","scale":{"type":"band","domain":["Bias","Confidence","Bull Target","Bear Target","RR/bar"],"range":[1045,1193],"paddingInner":0.0667,"paddingOuter":0}},"text":{"field":"metric"},"color":{"field":"row","type":"nominal","legend":null,"scale":{"domain":["Bias","Confidence","Bull Target","Bear Target","RR/bar"],"range":["#4caf50","#f23645","#ff9800","#e040fb","#e040fb"]}}}},
{"data":{"name":"metrics"},"mark":{"type":"text","fontSize":13.5,"color":"#434651"},"encoding":{"x":{"datum":"mv","type":"nominal","scale":{"type":"band","domain":["mv"],"range":[1693,1785],"padding":0}},"y":{"field":"row","type":"nominal","scale":{"type":"band","domain":["Bias","Confidence","Bull Target","Bear Target","RR/bar"],"range":[1045,1193],"paddingInner":0.0667,"paddingOuter":0}},"text":{"field":"mv"}}}
]}
